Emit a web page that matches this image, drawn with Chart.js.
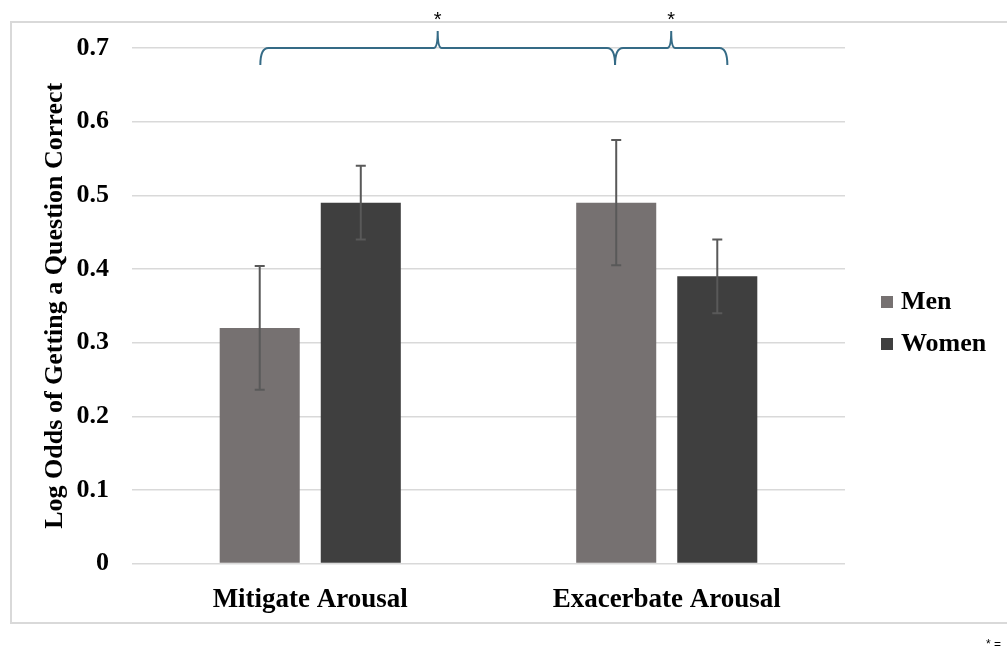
<!DOCTYPE html>
<html>
<head>
<meta charset="utf-8">
<script src="https://cdn.jsdelivr.net/npm/chart.js@4"></script>
<style>
  body { margin: 0; background: #fff; }
  #wrap { width: 1007px; height: 656px; }
</style>
</head>
<body>
<div id="wrap"><canvas id="myChart" width="1007" height="656"></canvas></div>
<script>
// data
const categories = ['Mitigate Arousal', 'Exacerbate Arousal'];
const menValues = [0.32, 0.49];
const womenValues = [0.49, 0.39];
const menErrors = [0.084, 0.085];
const womenErrors = [0.05, 0.05];
const yTickLabels = ['0', '0.1', '0.2', '0.3', '0.4', '0.5', '0.6', '0.7'];

// significance brackets, in category units, drawn at y = 0.7
const brackets = [
  { from: -0.14, to: 0.855, label: '*' },
  { from: 0.855, to: 1.17, label: '*' }
];
const bracketLevel = 0.7;

const serif = '"Liberation Serif", "Times New Roman", serif';
const menColor = '#767171';
const womenColor = '#3f3f3f';

const errorBars = {
  id: 'errorBars',
  afterDatasetsDraw(chart) {
    const ctx = chart.ctx;
    const y = chart.scales.y;
    const errs = [menErrors, womenErrors];
    ctx.save();
    ctx.strokeStyle = '#595959';
    ctx.lineWidth = 2;
    chart.data.datasets.forEach((ds, di) => {
      chart.getDatasetMeta(di).data.forEach((bar, i) => {
        const v = ds.data[i];
        const top = y.getPixelForValue(v + errs[di][i]);
        const bot = y.getPixelForValue(v - errs[di][i]);
        ctx.beginPath();
        ctx.moveTo(bar.x, top);
        ctx.lineTo(bar.x, bot);
        ctx.moveTo(bar.x - 5, top);
        ctx.lineTo(bar.x + 5, top);
        ctx.moveTo(bar.x - 5, bot);
        ctx.lineTo(bar.x + 5, bot);
        ctx.stroke();
      });
    });
    ctx.restore();
  }
};

const extras = {
  id: 'extras',
  beforeDraw(chart) {
    const ctx = chart.ctx;
    ctx.save();
    ctx.fillStyle = '#fff';
    ctx.fillRect(0, 0, chart.width, chart.height);
    ctx.strokeStyle = '#d9d9d9';
    ctx.lineWidth = 2;
    ctx.strokeRect(11, 22, 1100, 601);
    ctx.restore();
  },
  afterDraw(chart) {
    const ctx = chart.ctx;
    const x = chart.scales.x;
    const yp = chart.scales.y.getPixelForValue(bracketLevel);
    ctx.save();
    // brackets
    ctx.strokeStyle = '#356b86';
    ctx.lineWidth = 2;
    brackets.forEach(b => {
      const x1 = x.getPixelForValue(b.from);
      const x2 = x.getPixelForValue(b.to);
      const xm = (x1 + x2) / 2;
      ctx.beginPath();
      ctx.moveTo(x1, yp + 17);
      ctx.quadraticCurveTo(x1, yp, x1 + 8, yp);
      ctx.lineTo(xm - 4, yp);
      ctx.quadraticCurveTo(xm, yp, xm, yp - 17);
      ctx.quadraticCurveTo(xm, yp, xm + 4, yp);
      ctx.lineTo(x2 - 8, yp);
      ctx.quadraticCurveTo(x2, yp, x2, yp + 17);
      ctx.stroke();
      ctx.fillStyle = '#000';
      ctx.font = '20px "Liberation Sans", Arial, sans-serif';
      ctx.textAlign = 'center';
      ctx.textBaseline = 'middle';
      ctx.fillText(b.label, xm, yp - 28);
    });
    // legend
    const items = chart.data.datasets;
    ctx.font = 'bold 26px ' + serif;
    ctx.textAlign = 'left';
    ctx.textBaseline = 'middle';
    items.forEach((ds, i) => {
      const cy = 302 + i * 42;
      ctx.fillStyle = ds.backgroundColor;
      ctx.fillRect(881, cy - 6, 12, 12);
      ctx.fillStyle = '#000';
      ctx.fillText(ds.label, 901, cy);
    });
    // footnote (cut off at the edge)
    ctx.font = '12px "Liberation Sans", Arial, sans-serif';
    ctx.fillText('* =', 986, 645);
    ctx.restore();
  }
};

const data = {
  labels: categories,
  datasets: [
    { label: 'Men', data: menValues, backgroundColor: menColor },
    { label: 'Women', data: womenValues, backgroundColor: womenColor }
  ]
};

const config = {
  type: 'bar',
  data: data,
  options: {
    responsive: false,
    animation: false,
    layout: { padding: { left: 36, top: 48, right: 162, bottom: 28 } },
    categoryPercentage: 0.567,
    barPercentage: 0.792,
    plugins: {
      legend: { display: false },
      tooltip: { enabled: false }
    },
    scales: {
      x: {
        grid: { display: false },
        border: { display: false },
        ticks: {
          color: '#000',
          padding: 12,
          font: { family: serif, size: 27, weight: 'bold' }
        }
      },
      y: {
        min: 0,
        max: 0.7,
        border: { display: false },
        grid: { color: '#d9d9d9', lineWidth: 1.5, drawTicks: false },
        afterFit: s => { s.width = 96; },
        ticks: {
          stepSize: 0.1,
          color: '#000',
          padding: 23,
          font: { family: serif, size: 26, weight: 'bold' },
          callback: (v, i) => yTickLabels[i]
        },
        title: {
          display: true,
          text: 'Log Odds of Getting a Question Correct',
          color: '#000',
          font: { family: serif, size: 26, weight: 'bold' }
        }
      }
    }
  },
  plugins: [extras, errorBars]
};

const myChart = new Chart(document.getElementById('myChart'), config);
</script>
</body>
</html>
